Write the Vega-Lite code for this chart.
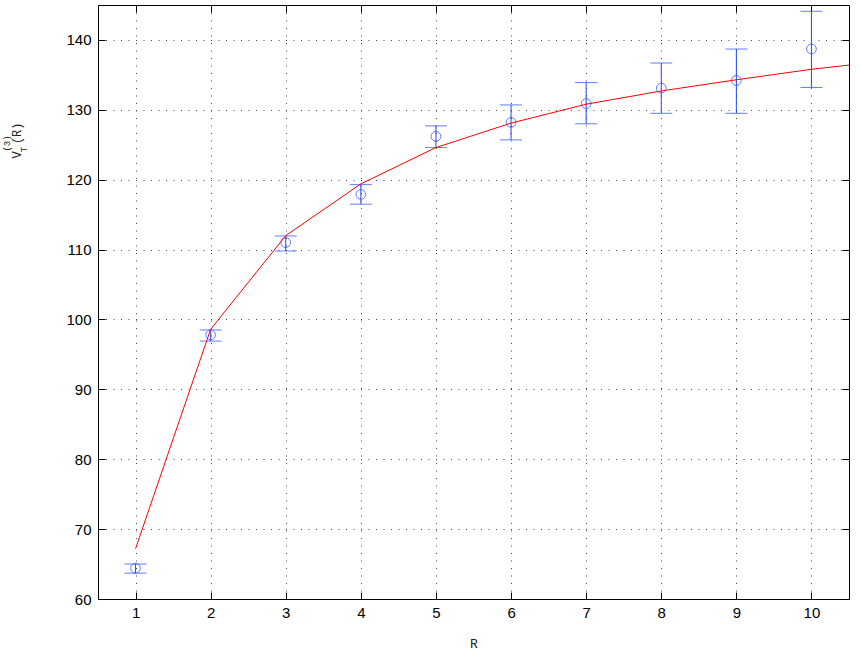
{
  "$schema": "https://vega.github.io/schema/vega-lite/v6.json",
  "width": 751,
  "height": 594,
  "autosize": {"type": "none"},
  "padding": {"left": 98, "top": 5, "right": 12, "bottom": 55},
  "background": "white",
  "config": {
    "view": {"stroke": "black", "strokeWidth": 1},
    "axis": {
      "domainColor": "black",
      "tickColor": "black",
      "labelColor": "black",
      "titleColor": "#222222",
      "labelFont": "Liberation Sans",
      "labelFontSize": 15,
      "titleFont": "Liberation Mono",
      "titleFontWeight": "normal"
    }
  },
  "datasets": {
    "pts": [
      {"R": 1, "V": 64.4, "lo": 63.7, "hi": 65.0},
      {"R": 2, "V": 97.8, "lo": 96.9, "hi": 98.5},
      {"R": 3, "V": 111.0, "lo": 109.8, "hi": 111.95},
      {"R": 4, "V": 117.9, "lo": 116.5, "hi": 119.3},
      {"R": 5, "V": 126.2, "lo": 124.6, "hi": 127.7},
      {"R": 6, "V": 128.2, "lo": 125.7, "hi": 130.7},
      {"R": 7, "V": 130.9, "lo": 128.0, "hi": 133.9},
      {"R": 8, "V": 133.1, "lo": 129.5, "hi": 136.7},
      {"R": 9, "V": 134.2, "lo": 129.5, "hi": 138.7},
      {"R": 10, "V": 138.7, "lo": 133.2, "hi": 144.1}
    ],
    "fit": [
      {"R": 1, "V": 67.2},
      {"R": 2, "V": 98.6},
      {"R": 3, "V": 112.0},
      {"R": 4, "V": 119.4},
      {"R": 5, "V": 124.6},
      {"R": 6, "V": 128.1},
      {"R": 7, "V": 130.8},
      {"R": 8, "V": 132.7},
      {"R": 9, "V": 134.3},
      {"R": 10, "V": 135.8},
      {"R": 10.5, "V": 136.4}
    ]
  },
  "resolve": {"axis": {"x": "independent", "y": "independent"}},
  "layer": [
    {
      "data": {"name": "pts"},
      "mark": {"type": "rule", "color": "#2244ff", "strokeWidth": 1},
      "encoding": {
        "x": {
          "field": "R", "type": "quantitative",
          "scale": {"domain": [0.5, 10.5], "nice": false, "zero": false},
          "axis": {
            "orient": "bottom", "values": [1,2,3,4,5,6,7,8,9,10],
            "tickSize": -7, "labelPadding": 13, "grid": true,
            "gridColor": "#444", "gridDash": [1, 6.5], "gridOpacity": 1,
            "title": "R", "titleFontSize": 13, "titlePadding": 17
          }
        },
        "y": {
          "field": "lo", "type": "quantitative",
          "scale": {"domain": [60, 145], "nice": false, "zero": false},
          "axis": {
            "orient": "left", "values": [60,70,80,90,100,110,120,130,140],
            "tickSize": -7, "labelPadding": 14, "grid": true,
            "gridColor": "#444", "gridDash": [1, 6.5], "gridOpacity": 1,
            "title": "V  (R)", "titleFontSize": 12, "titleAngle": 270,
            "titleX": -82, "titleY": 135, "titleAlign": "center", "titleBaseline": "middle"
          }
        },
        "y2": {"field": "hi"}
      }
    },
    {
      "data": {"name": "pts"},
      "mark": {"type": "tick", "orient": "horizontal", "color": "#2244ff", "size": 22, "thickness": 1},
      "encoding": {
        "x": {
          "field": "R", "type": "quantitative",
          "scale": {"domain": [0.5, 10.5], "nice": false, "zero": false},
          "axis": {
            "orient": "top", "values": [1,2,3,4,5,6,7,8,9,10],
            "tickSize": -7, "labels": false, "grid": false, "domain": false, "title": null
          }
        },
        "y": {
          "field": "lo", "type": "quantitative",
          "scale": {"domain": [60, 145], "nice": false, "zero": false},
          "axis": {
            "orient": "right", "values": [60,70,80,90,100,110,120,130,140],
            "tickSize": -7, "labels": false, "grid": false, "domain": false, "title": null
          }
        }
      }
    },
    {
      "data": {"name": "pts"},
      "mark": {"type": "tick", "orient": "horizontal", "color": "#2244ff", "size": 22, "thickness": 1},
      "encoding": {
        "x": {
          "field": "R", "type": "quantitative",
          "scale": {"domain": [0.5, 10.5], "nice": false, "zero": false},
          "axis": null
        },
        "y": {
          "field": "hi", "type": "quantitative",
          "scale": {"domain": [60, 145], "nice": false, "zero": false},
          "axis": {
            "orient": "left", "labels": false, "ticks": false, "grid": false, "domain": false,
            "title": "(3)", "titleFontSize": 9, "titleAngle": 270,
            "titleX": -92, "titleY": 138, "titleAlign": "center", "titleBaseline": "middle"
          }
        }
      }
    },
    {
      "data": {"name": "pts"},
      "mark": {"type": "point", "shape": "circle", "filled": false, "color": "#2244ff", "size": 95, "strokeWidth": 1},
      "encoding": {
        "x": {
          "field": "R", "type": "quantitative",
          "scale": {"domain": [0.5, 10.5], "nice": false, "zero": false},
          "axis": null
        },
        "y": {
          "field": "V", "type": "quantitative",
          "scale": {"domain": [60, 145], "nice": false, "zero": false},
          "axis": {
            "orient": "left", "labels": false, "ticks": false, "grid": false, "domain": false,
            "title": "T", "titleFontSize": 9, "titleAngle": 270,
            "titleX": -75, "titleY": 144, "titleAlign": "center", "titleBaseline": "middle"
          }
        }
      }
    },
    {
      "data": {"name": "fit"},
      "mark": {"type": "line", "color": "#ff0000", "strokeWidth": 1, "clip": true},
      "encoding": {
        "x": {
          "field": "R", "type": "quantitative",
          "scale": {"domain": [0.5, 10.5], "nice": false, "zero": false},
          "axis": null
        },
        "y": {
          "field": "V", "type": "quantitative",
          "scale": {"domain": [60, 145], "nice": false, "zero": false},
          "axis": null
        }
      }
    }
  ]
}
